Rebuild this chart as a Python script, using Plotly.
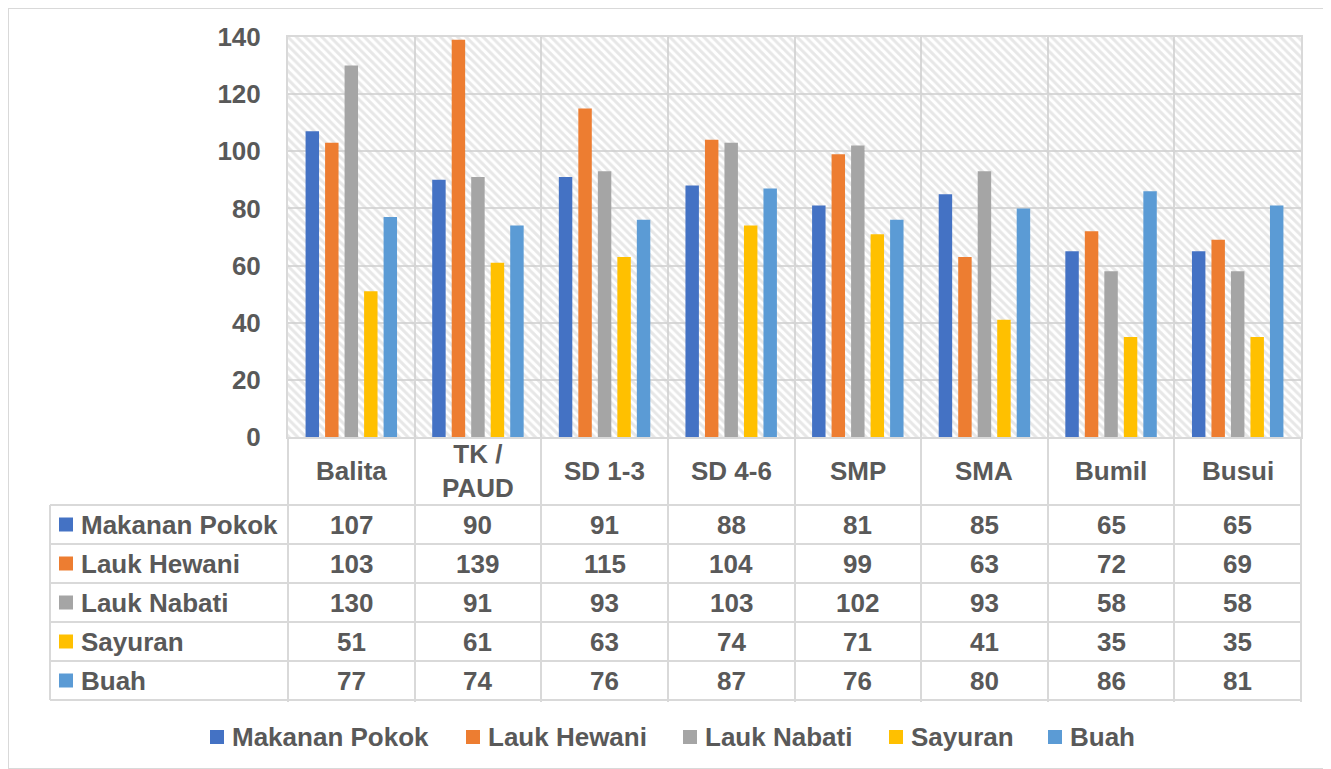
import plotly.graph_objects as go

categories = ["Balita", "TK /<br>PAUD", "SD 1-3", "SD 4-6", "SMP", "SMA", "Bumil", "Busui"]
series_names = ["Makanan Pokok", "Lauk Hewani", "Lauk Nabati", "Sayuran", "Buah"]
makanan_pokok = [107, 90, 91, 88, 81, 85, 65, 65]
lauk_hewani = [103, 139, 115, 104, 99, 63, 72, 69]
lauk_nabati = [130, 91, 93, 103, 102, 93, 58, 58]
sayuran = [51, 61, 63, 74, 71, 41, 35, 35]
buah = [77, 74, 76, 87, 76, 80, 86, 81]
y_ticks = [0, 20, 40, 60, 80, 100, 120, 140]

series_values = [makanan_pokok, lauk_hewani, lauk_nabati, sayuran, buah]
colors = ["#4472C4", "#ED7D31", "#A5A5A5", "#FFC000", "#5B9BD5"]

# page offset (body margin) compensation
OFF = 8
FW, FH = 1331 - OFF, 769 - OFF
FONT = "Liberation Sans, Arial, sans-serif"
TXT = "#595959"
GRID = "#d9d9d9"
FS = 26

# layout geometry (target pixels in the 1331x769 picture)
plot_l, plot_r = 288, 1301
plot_t, plot_b = 37, 437
header_b = 505
row_h = 39
table_l = 50
n_rows = len(series_names)
table_b = header_b + row_h * n_rows
legend_y = 737
legend_key_x = [210, 466, 683, 889, 1048]
key = 14


def px(x):
    return (x - OFF) / FW


def py(y):
    return 1 - (y - OFF) / FH


fig = go.Figure()

# hatched plot background (style only)
fig.add_trace(go.Bar(
    x=categories, y=[max(y_ticks)] * len(categories), width=1,
    marker=dict(color="rgba(0,0,0,0)", line=dict(width=0),
                pattern=dict(shape="\\", fgcolor="#cfcfcf", bgcolor="rgba(0,0,0,0)",
                             size=6, solidity=0.5, fillmode="overlay")),
    showlegend=False, hoverinfo="skip", xaxis="x", yaxis="y",
))

for name, vals, c in zip(series_names, series_values, colors):
    fig.add_trace(go.Bar(
        x=categories, y=vals, name=name, marker=dict(color=c, line=dict(width=0)),
        xaxis="x2", yaxis="y2", showlegend=False,
    ))

xdom = [px(plot_l), px(plot_r)]
ydom = [py(plot_b), py(plot_t)]
yr = [0, max(y_ticks)]
xr = [-0.5, len(categories) - 0.5]

shapes = []
annotations = []
bold = dict(family=FONT, size=FS, color=TXT, weight="bold")

# table horizontal lines
for i in range(n_rows + 1):
    y = header_b + i * row_h
    shapes.append(dict(type="line", xref="paper", yref="paper", x0=px(table_l), x1=px(plot_r),
                       y0=py(y), y1=py(y), line=dict(color=GRID, width=2), layer="above"))
# table left line
shapes.append(dict(type="line", xref="paper", yref="paper", x0=px(table_l), x1=px(table_l),
                   y0=py(header_b), y1=py(table_b), line=dict(color=GRID, width=2)))
# outer border
shapes.append(dict(type="rect", xref="paper", yref="paper", x0=0, x1=1, y0=0, y1=1,
                   line=dict(color=GRID, width=2)))

# header labels
for cat in categories:
    annotations.append(dict(x=cat, xref="x", y=py((plot_b + header_b) / 2), yref="paper",
                            text=cat, showarrow=False, xanchor="center", yanchor="middle",
                            font=bold))
# table rows
for r, (name, vals, c) in enumerate(zip(series_names, series_values, colors)):
    ym = header_b + r * row_h + row_h / 2
    shapes.append(dict(type="rect", xref="paper", yref="paper",
                       x0=px(table_l + 9), x1=px(table_l + 9 + key),
                       y0=py(ym + key / 2), y1=py(ym - key / 2),
                       fillcolor=c, line=dict(width=0)))
    annotations.append(dict(x=px(table_l + 29), xref="paper", y=py(ym), yref="paper",
                            text=name, showarrow=False, xanchor="left", yanchor="middle",
                            font=bold))
    for cat, v in zip(categories, vals):
        annotations.append(dict(x=cat, xref="x", y=py(ym), yref="paper", text=str(v),
                                showarrow=False, xanchor="center", yanchor="middle",
                                font=bold))

# legend below table
for name, c, kx in zip(series_names, colors, legend_key_x):
    shapes.append(dict(type="rect", xref="paper", yref="paper",
                       x0=px(kx), x1=px(kx + key),
                       y0=py(legend_y + key / 2), y1=py(legend_y - key / 2),
                       fillcolor=c, line=dict(width=0)))
    annotations.append(dict(x=px(kx + key + 6), xref="paper", y=py(legend_y), yref="paper",
                            text=name, showarrow=False, xanchor="left", yanchor="middle",
                            font=bold))

fig.update_layout(
    width=FW, height=FH,
    margin=dict(l=0, r=0, t=0, b=0, pad=0, autoexpand=False),
    paper_bgcolor="white", plot_bgcolor="white",
    font=bold, showlegend=False,
    barmode="group", bargap=0.23, bargroupgap=0.31,
    xaxis=dict(domain=xdom, range=xr, type="category", tickson="boundaries",
               showgrid=True, gridcolor=GRID, gridwidth=2,
               ticks="outside", ticklen=table_b - plot_b, tickcolor=GRID, tickwidth=2,
               showticklabels=False, showline=True, linecolor=GRID, linewidth=2, mirror=True,
               automargin=False, fixedrange=True),
    yaxis=dict(domain=ydom, range=yr, tickvals=y_ticks, showgrid=True, gridcolor=GRID, gridwidth=2,
               ticks="outside", ticklen=20, tickcolor="rgba(0,0,0,0)",
               tickfont=bold, showline=True, linecolor=GRID, linewidth=2, mirror=True,
               zeroline=False, automargin=False, fixedrange=True),
    xaxis2=dict(overlaying="x", range=xr, type="category", visible=False, automargin=False,
                fixedrange=True),
    yaxis2=dict(overlaying="y", range=yr, visible=False, automargin=False, fixedrange=True),
    shapes=shapes, annotations=annotations,
)

fig.write_html("out.html")
